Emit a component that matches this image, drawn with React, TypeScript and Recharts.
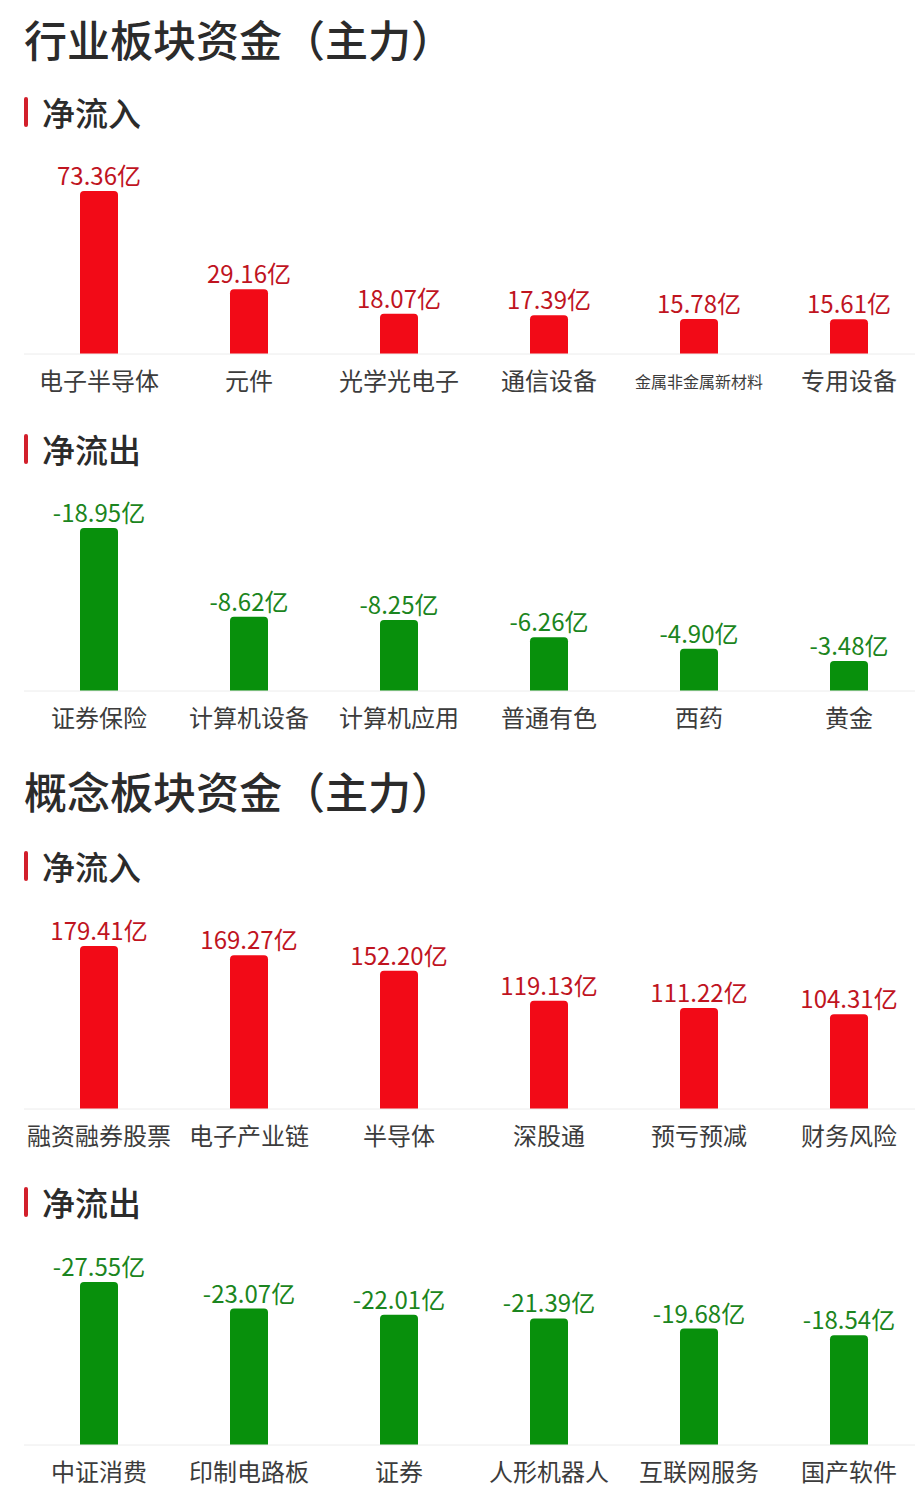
import React from "react";
import { BarChart, Bar, XAxis, YAxis, LabelList } from "recharts";

const industryInNames = ["电子半导体", "元件", "光学光电子", "通信设备", "金属非金属新材料", "专用设备"];
const industryInValues = [73.36, 29.16, 18.07, 17.39, 15.78, 15.61];

const industryOutNames = ["证券保险", "计算机设备", "计算机应用", "普通有色", "西药", "黄金"];
const industryOutValues = [-18.95, -8.62, -8.25, -6.26, -4.9, -3.48];

const conceptInNames = ["融资融券股票", "电子产业链", "半导体", "深股通", "预亏预减", "财务风险"];
const conceptInValues = [179.41, 169.27, 152.2, 119.13, 111.22, 104.31];

const conceptOutNames = ["中证消费", "印制电路板", "证券", "人形机器人", "互联网服务", "国产软件"];
const conceptOutValues = [-27.55, -23.07, -22.01, -21.39, -19.68, -18.54];

const FONT = '"Noto Sans CJK SC", "Noto Sans", sans-serif';
const RED = "#f20a17";
const GREEN = "#08900c";
const RED_TEXT = "#c0141f";
const GREEN_TEXT = "#1b8520";

function CategoryTick({ x, y, payload }: any) {
  const long = payload.value.length > 6;
  return (
    <text
      x={x}
      y={y + (long ? 19 : 17)}
      textAnchor="middle"
      dominantBaseline="central"
      fontFamily={FONT}
      fontSize={long ? 16 : 24}
      fill="#3c3c3c"
    >
      {payload.value}
    </text>
  );
}

function FlowChart({ top, names, values, color, textColor }: any) {
  const data = names.map((name: string, i: number) => ({
    name,
    value: values[i],
    height: Math.abs(values[i]),
  }));
  const max = Math.max(...data.map((d: any) => d.height));
  return (
    <div style={{ position: "absolute", left: 24, top: top - 40 }}>
      <BarChart
        width={900}
        height={263}
        data={data}
        margin={{ top: 40, right: 0, left: 0, bottom: 0 }}
      >
        <XAxis
          dataKey="name"
          axisLine={{ stroke: "#ececec" }}
          tickLine={false}
          interval={0}
          height={60}
          tick={<CategoryTick />}
        />
        <YAxis hide domain={[0, max]} />
        <Bar
          dataKey="height"
          fill={color}
          barSize={38}
          radius={[4, 4, 0, 0]}
          isAnimationActive={false}
        >
          <LabelList
            dataKey="value"
            position="top"
            offset={6}
            fill={textColor}
            fontSize={24}
            fontFamily={FONT}
            formatter={(v: any) => `${Number(v).toFixed(2)}亿`}
          />
        </Bar>
      </BarChart>
    </div>
  );
}

function Title({ top, text }: any) {
  return (
    <div
      style={{
        position: "absolute",
        left: 24,
        top: top - 30,
        height: 60,
        lineHeight: "60px",
        fontSize: 43,
        fontWeight: 500,
        color: "#2b2b2b",
        fontFamily: FONT,
        whiteSpace: "nowrap",
      }}
    >
      {text}
    </div>
  );
}

function SubTitle({ top, text }: any) {
  return (
    <div style={{ position: "absolute", left: 24, top: top - 22, height: 44 }}>
      <div
        style={{
          position: "absolute",
          left: 0,
          top: 7,
          width: 4,
          height: 30,
          background: "#d21f2b",
          borderRadius: 2,
        }}
      />
      <div
        style={{
          position: "absolute",
          left: 18,
          top: 0,
          lineHeight: "44px",
          fontSize: 33,
          fontWeight: 500,
          color: "#2b2b2b",
          fontFamily: FONT,
          whiteSpace: "nowrap",
        }}
      >
        {text}
      </div>
    </div>
  );
}

export default function App() {
  return (
    <div
      style={{
        position: "absolute",
        left: 0,
        top: 0,
        width: 915,
        height: 1499,
        overflow: "hidden",
        background: "#fff",
      }}
    >
      <Title top={38} text="行业板块资金（主力）" />
      <SubTitle top={112} text="净流入" />
      <FlowChart top={191} names={industryInNames} values={industryInValues} color={RED} textColor={RED_TEXT} />
      <SubTitle top={449} text="净流出" />
      <FlowChart top={528} names={industryOutNames} values={industryOutValues} color={GREEN} textColor={GREEN_TEXT} />
      <Title top={790} text="概念板块资金（主力）" />
      <SubTitle top={866} text="净流入" />
      <FlowChart top={946} names={conceptInNames} values={conceptInValues} color={RED} textColor={RED_TEXT} />
      <SubTitle top={1202} text="净流出" />
      <FlowChart top={1282} names={conceptOutNames} values={conceptOutValues} color={GREEN} textColor={GREEN_TEXT} />
    </div>
  );
}
